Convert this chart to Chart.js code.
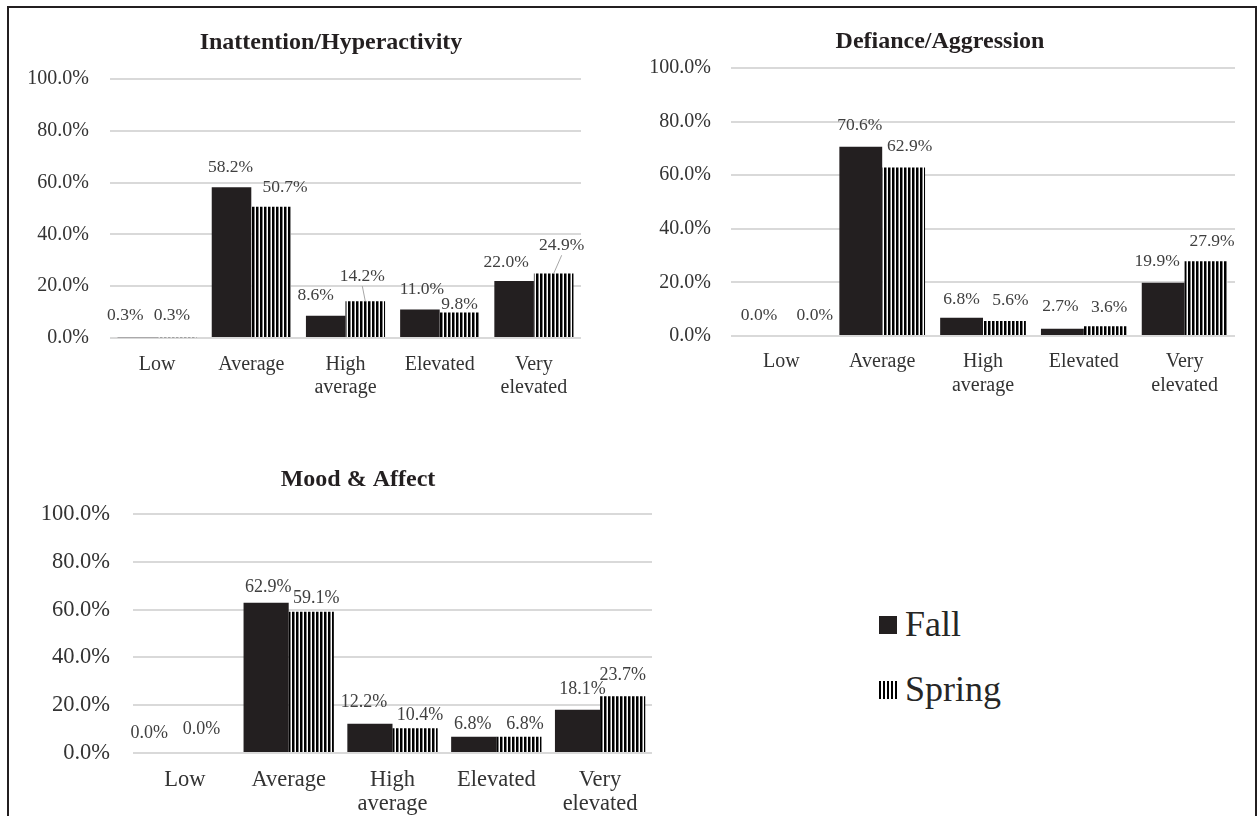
<!DOCTYPE html>
<html>
<head>
<meta charset="utf-8">
<script src="https://cdn.jsdelivr.net/npm/chart.js@4.4.1/dist/chart.umd.min.js"></script>
<style>
  body { margin: 0; background: #fff; width: 1259px; height: 816px; overflow: hidden; position: relative; font-family: "Liberation Serif", "Times New Roman", serif; }
  #frame { position: absolute; left: 7px; top: 6px; width: 1246px; height: 900px; border: 2px solid #231f20; }
  canvas { position: absolute; }
  .leg { position: absolute; left: 879px; font-size: 36px; color: #262626; line-height: 40px; }
  .leg span.sw { display: inline-block; width: 18px; height: 18px; margin-right: 8px; vertical-align: 2px; }
</style>
</head>
<body>
<div id="frame"></div>
<canvas id="c1" width="662" height="410" style="left:0px;top:0px"></canvas>
<canvas id="c2" width="640" height="410" style="left:620px;top:0px"></canvas>
<canvas id="c3" width="676" height="376" style="left:20px;top:440px"></canvas>
<div class="leg" style="top:604px"><span class="sw" style="background:#231f20"></span>Fall</div>
<div class="leg" style="top:669px"><span class="sw" style="background:repeating-linear-gradient(90deg,#000 0 2.5px,#fff 2.5px 4px)"></span>Spring</div>
<script>
// valeurs (pourcentages)
let categories = ['Low', 'Average', ['High', 'average'], 'Elevated', ['Very', 'elevated']];
let yTicks = [0, 20, 40, 60, 80, 100];

let inattentionFall = [0.3, 58.2, 8.6, 11.0, 22.0];
let inattentionSpring = [0.3, 50.7, 14.2, 9.8, 24.9];

let defianceFall = [0.0, 70.6, 6.8, 2.7, 19.9];
let defianceSpring = [0.0, 62.9, 5.6, 3.6, 27.9];

let moodFall = [0.0, 62.9, 12.2, 6.8, 18.1];
let moodSpring = [0.0, 59.1, 10.4, 6.8, 23.7];

let FONT = '"Liberation Serif", "Times New Roman", serif';

function makeStripes() {
    let c = document.createElement('canvas');
    c.width = 4; c.height = 4;
    let g = c.getContext('2d');
    g.fillStyle = '#fff';
    g.fillRect(0, 0, 4, 4);
    g.fillStyle = '#000';
    g.fillRect(0, 0, 2.5, 4);
    return g.createPattern(c, 'repeat');
}
let stripes = makeStripes();

// étiquettes au-dessus des barres : [dx, hauteur au-dessus, trait de rappel]
let barLabels = {
    id: 'barLabels',
    afterDatasetsDraw(chart, args, opts) {
        let ctx = chart.ctx;
        ctx.save();
        ctx.font = opts.size + 'px ' + FONT;
        ctx.fillStyle = '#404040';
        ctx.textAlign = 'center';
        ctx.textBaseline = 'middle';
        chart.data.datasets.forEach((ds, i) => {
            chart.getDatasetMeta(i).data.forEach((bar, j) => {
                let n = opts.nudges[i][j];
                let x = bar.x + n[0];
                let y = bar.y - n[1];
                ctx.fillText(ds.data[j].toFixed(1) + '%', x, y);
                if (n[2]) {
                    ctx.strokeStyle = '#a6a6a6';
                    ctx.lineWidth = 1;
                    ctx.beginPath();
                    ctx.moveTo(x, y + opts.size / 2 + 1);
                    ctx.lineTo(bar.x, bar.y);
                    ctx.stroke();
                }
            });
        });
        ctx.restore();
    }
};

function loadChart(id, title, fall, spring, s) {
    let ctx = document.getElementById(id).getContext('2d');
    return new Chart(ctx, {
        type: 'bar',
        data: {
            labels: categories,
            datasets: [{
                label: 'Fall',
                data: fall,
                backgroundColor: '#231f20',
                borderWidth: 0,
                categoryPercentage: s.cat,
                barPercentage: 1
            }, {
                label: 'Spring',
                data: spring,
                backgroundColor: stripes,
                borderWidth: 0,
                categoryPercentage: s.cat,
                barPercentage: 1
            }]
        },
        options: {
            responsive: false,
            animation: false,
            layout: { padding: 0 },
            plugins: {
                legend: { display: false },
                tooltip: { enabled: false },
                title: {
                    display: true,
                    text: title,
                    color: '#231f20',
                    font: { family: FONT, size: s.title, weight: 'bold' },
                    padding: { top: s.titleTop, bottom: s.titleBottom }
                },
                barLabels: { size: s.label, nudges: s.nudges }
            },
            scales: {
                x: {
                    grid: { display: false, drawTicks: false },
                    border: { display: false },
                    ticks: { color: '#333', font: { family: FONT, size: s.tick, lineHeight: s.lh }, padding: s.xPad, maxRotation: 0, autoSkip: false },
                    afterFit: scale => { scale.height = s.xHeight; }
                },
                y: {
                    min: 0,
                    max: 100,
                    afterBuildTicks: scale => { scale.ticks = yTicks.map(v => ({ value: v })); },
                    grid: { color: '#d9d9d9', lineWidth: 2, drawTicks: false },
                    border: { display: false },
                    ticks: { color: '#333', font: { family: FONT, size: s.tick }, padding: s.yPad, callback: v => v.toFixed(1) + '%' },
                    afterFit: scale => { scale.width = s.yWidth; }
                },
                // axe vide à droite, sert juste à garder le titre centré comme dans l'original
                spacer: {
                    type: 'linear',
                    position: 'right',
                    grid: { display: false },
                    border: { display: false },
                    ticks: { display: false },
                    afterFit: scale => { scale.width = s.rightWidth; }
                }
            }
        },
        plugins: [barLabels]
    });
}

loadChart('c1', 'Inattention/Hyperactivity', inattentionFall, inattentionSpring, {
    cat: 0.84, rightWidth: 81, title: 24, titleTop: 28.6, titleBottom: 21.6,
    tick: 20, lh: 1.15, xPad: 15, xHeight: 72, yPad: 21, yWidth: 110, label: 17.5,
    nudges: [
        [[-12, 22], [-1, 20], [-10, 20], [2, 20], [-8, 19]],
        [[-5, 22], [14, 19], [-3, 25, true], [0, 8], [8, 28, true]]
    ]
});

loadChart('c2', 'Defiance/Aggression', defianceFall, defianceSpring, {
    cat: 0.85, rightWidth: 25, title: 24, titleTop: 27.6, titleBottom: 11.6,
    tick: 20, lh: 1.2, xPad: 14, xHeight: 74, yPad: 20, yWidth: 111, label: 17.5,
    nudges: [
        [[-1, 21], [-1, 21], [0, 18], [-2, 22], [-6, 21]],
        [[12, 21], [6, 21], [6, 21], [4, 19], [6, 20]]
    ]
});

loadChart('c3', 'Mood & Affect', moodFall, moodSpring, {
    cat: 0.87, rightWidth: 44, title: 24, titleTop: 25.6, titleBottom: 19.6,
    tick: 22.5, lh: 1.07, xPad: 15, xHeight: 63, yPad: 23, yWidth: 113, label: 18,
    nudges: [
        [[-13, 20], [2, 15], [-6, 22], [-1, 12], [5, 20]],
        [[-6, 24], [5, 13], [5, 13], [6, 12], [0, 21]]
    ]
});
</script>
</body>
</html>
